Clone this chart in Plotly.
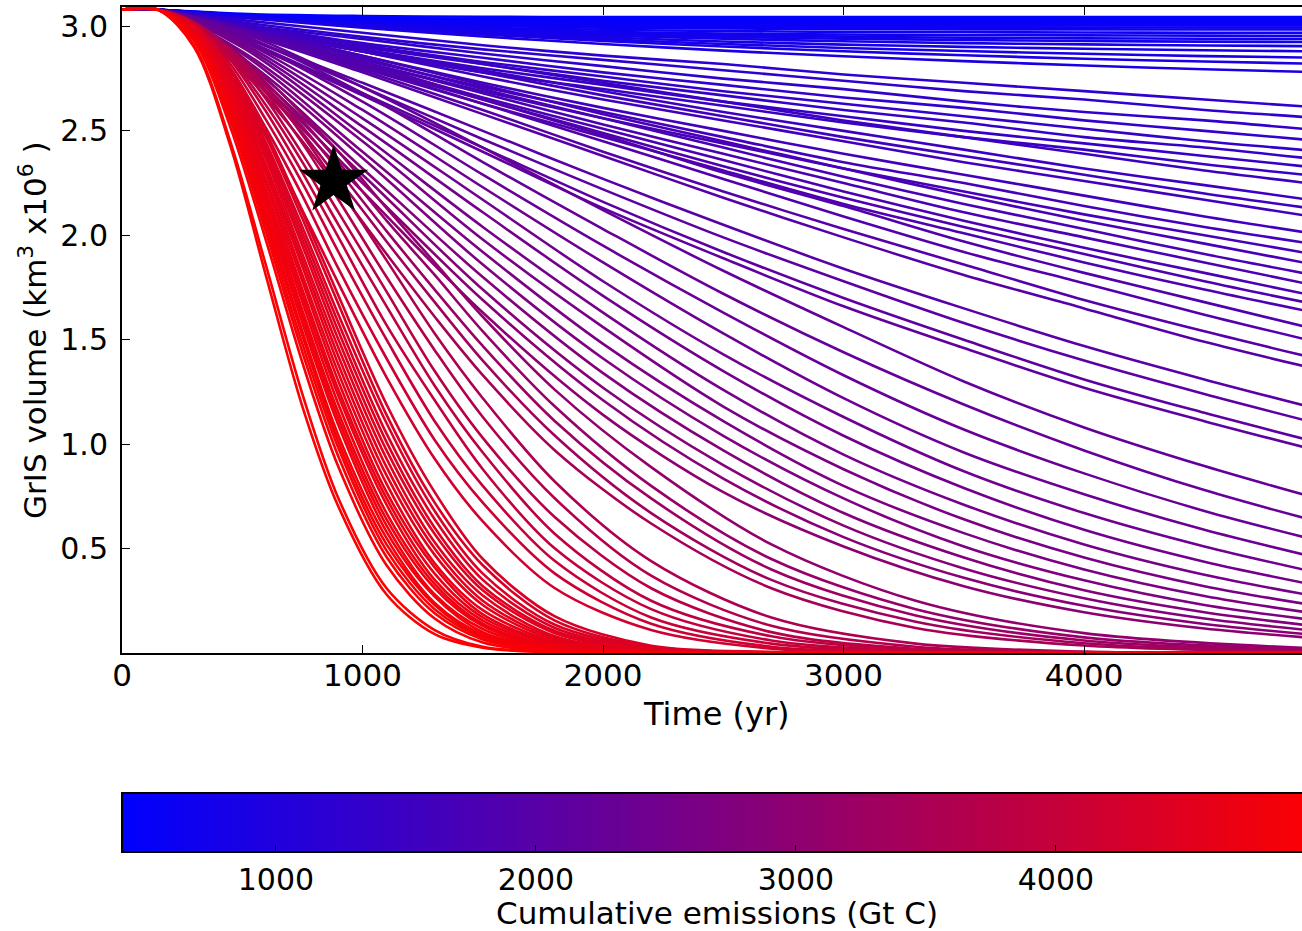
import plotly.graph_objects as go

# Sample years of the runs: fast-collapse runs are stored more densely early on
YEARS_FAST = [0, 150, 300, 450, 600, 750, 900, 1100, 1300, 1500, 1800, 2200, 2700, 3300, 4000, 5000]
YEARS_SLOW = [0, 150, 500, 1000, 1500, 2000, 2500, 3000, 3500, 4000, 4500, 5000]

# Cumulative emissions (Gt C) of the fast-collapse runs
EMISSIONS_FAST = [
    5000, 4985, 4930, 4900, 4875, 4850, 4825, 4800, 4775, 4750, 4720, 4690,
    4660, 4630, 4600, 4570, 4540, 4510, 4480, 4450, 4420, 4390, 4360, 4330,
    4200, 4110, 4020, 3930, 3840, 3750, 3660, 3570,
    3450, 3350, 3250, 3150, 3050,
]

# GrIS volume (10^6 km^3) of the fast-collapse runs at YEARS_FAST
VOLUME_FAST = [
    [3.08, 3.08, 2.90, 2.43, 1.80, 1.18, 0.70, 0.28, 0.09, 0.025, 0.003, 0.0, 0.0, 0.0, 0.0, 0.0],
    [3.08, 3.08, 2.91, 2.45, 1.85, 1.24, 0.74, 0.31, 0.11, 0.03, 0.005, 0.0, 0.0, 0.0, 0.0, 0.0],
    [3.08, 3.08, 2.93, 2.52, 1.97, 1.39, 0.89, 0.42, 0.165, 0.05, 0.007, 0.0, 0.0, 0.0, 0.0, 0.0],
    [3.08, 3.08, 2.94, 2.55, 2.01, 1.44, 0.94, 0.46, 0.19, 0.065, 0.01, 0.001, 0.0, 0.0, 0.0, 0.0],
    [3.08, 3.08, 2.94, 2.56, 2.04, 1.48, 0.98, 0.49, 0.21, 0.075, 0.012, 0.001, 0.0, 0.0, 0.0, 0.0],
    [3.08, 3.08, 2.95, 2.58, 2.07, 1.52, 1.01, 0.52, 0.23, 0.08, 0.015, 0.002, 0.0, 0.0, 0.0, 0.0],
    [3.08, 3.08, 2.95, 2.59, 2.09, 1.54, 1.04, 0.55, 0.24, 0.09, 0.017, 0.002, 0.0, 0.0, 0.0, 0.0],
    [3.08, 3.08, 2.96, 2.61, 2.12, 1.58, 1.09, 0.58, 0.27, 0.10, 0.02, 0.003, 0.0, 0.0, 0.0, 0.0],
    [3.08, 3.08, 2.96, 2.62, 2.14, 1.61, 1.12, 0.61, 0.28, 0.115, 0.023, 0.003, 0.0, 0.0, 0.0, 0.0],
    [3.08, 3.08, 2.96, 2.63, 2.17, 1.64, 1.15, 0.64, 0.31, 0.13, 0.027, 0.004, 0.0, 0.0, 0.0, 0.0],
    [3.08, 3.08, 2.96, 2.64, 2.19, 1.68, 1.19, 0.67, 0.33, 0.14, 0.03, 0.004, 0.0, 0.0, 0.0, 0.0],
    [3.08, 3.08, 2.97, 2.66, 2.21, 1.71, 1.23, 0.71, 0.35, 0.155, 0.035, 0.005, 0.0, 0.0, 0.0, 0.0],
    [3.08, 3.08, 2.97, 2.67, 2.24, 1.74, 1.26, 0.74, 0.38, 0.17, 0.042, 0.005, 0.0, 0.0, 0.0, 0.0],
    [3.08, 3.08, 2.97, 2.68, 2.26, 1.78, 1.30, 0.77, 0.41, 0.185, 0.047, 0.006, 0.0, 0.0, 0.0, 0.0],
    [3.08, 3.08, 2.98, 2.69, 2.29, 1.81, 1.34, 0.81, 0.43, 0.205, 0.054, 0.007, 0.001, 0.0, 0.0, 0.0],
    [3.08, 3.08, 2.98, 2.71, 2.31, 1.85, 1.38, 0.85, 0.47, 0.23, 0.063, 0.008, 0.001, 0.0, 0.0, 0.0],
    [3.08, 3.08, 2.98, 2.72, 2.33, 1.88, 1.42, 0.89, 0.50, 0.25, 0.072, 0.01, 0.001, 0.0, 0.0, 0.0],
    [3.08, 3.08, 2.99, 2.73, 2.36, 1.91, 1.46, 0.93, 0.53, 0.275, 0.08, 0.012, 0.001, 0.0, 0.0, 0.0],
    [3.08, 3.08, 2.99, 2.74, 2.38, 1.95, 1.50, 0.97, 0.57, 0.30, 0.095, 0.015, 0.002, 0.0, 0.0, 0.0],
    [3.08, 3.08, 2.99, 2.76, 2.40, 1.98, 1.54, 1.01, 0.60, 0.32, 0.105, 0.017, 0.002, 0.0, 0.0, 0.0],
    [3.08, 3.08, 3.00, 2.77, 2.42, 2.01, 1.58, 1.05, 0.64, 0.35, 0.12, 0.02, 0.002, 0.0, 0.0, 0.0],
    [3.08, 3.08, 3.00, 2.78, 2.44, 2.04, 1.62, 1.10, 0.68, 0.38, 0.135, 0.026, 0.003, 0.0, 0.0, 0.0],
    [3.08, 3.08, 3.00, 2.79, 2.47, 2.08, 1.67, 1.14, 0.72, 0.42, 0.155, 0.03, 0.004, 0.0, 0.0, 0.0],
    [3.08, 3.08, 3.01, 2.80, 2.49, 2.11, 1.71, 1.19, 0.77, 0.45, 0.175, 0.035, 0.005, 0.0, 0.0, 0.0],
    [3.08, 3.08, 2.99, 2.77, 2.47, 2.12, 1.77, 1.32, 0.93, 0.63, 0.31, 0.11, 0.021, 0.002, 0.0, 0.0],
    [3.08, 3.08, 3.00, 2.80, 2.51, 2.19, 1.84, 1.41, 1.02, 0.72, 0.38, 0.14, 0.03, 0.004, 0.0, 0.0],
    [3.08, 3.08, 3.00, 2.82, 2.55, 2.25, 1.92, 1.50, 1.11, 0.80, 0.44, 0.17, 0.045, 0.006, 0.0005, 0.0],
    [3.08, 3.08, 3.01, 2.84, 2.59, 2.30, 1.99, 1.57, 1.21, 0.88, 0.50, 0.21, 0.06, 0.01, 0.001, 0.0],
    [3.08, 3.08, 3.01, 2.85, 2.62, 2.35, 2.05, 1.66, 1.28, 0.96, 0.57, 0.25, 0.08, 0.014, 0.001, 0.0],
    [3.08, 3.08, 3.01, 2.87, 2.65, 2.39, 2.11, 1.73, 1.35, 1.03, 0.65, 0.31, 0.10, 0.02, 0.002, 0.0],
    [3.08, 3.08, 3.02, 2.88, 2.68, 2.44, 2.17, 1.80, 1.45, 1.13, 0.74, 0.37, 0.13, 0.03, 0.004, 0.0],
    [3.08, 3.08, 3.02, 2.89, 2.71, 2.48, 2.23, 1.88, 1.53, 1.22, 0.82, 0.44, 0.17, 0.045, 0.007, 0.0],
    [3.08, 3.08, 3.00, 2.85, 2.66, 2.45, 2.22, 1.91, 1.61, 1.33, 0.97, 0.62, 0.31, 0.12, 0.036, 0.005],
    [3.08, 3.08, 3.00, 2.87, 2.69, 2.49, 2.27, 1.97, 1.68, 1.40, 1.04, 0.67, 0.35, 0.15, 0.047, 0.007],
    [3.08, 3.08, 3.01, 2.88, 2.71, 2.52, 2.31, 2.02, 1.74, 1.47, 1.11, 0.74, 0.40, 0.18, 0.06, 0.01],
    [3.08, 3.08, 3.01, 2.89, 2.73, 2.55, 2.35, 2.07, 1.81, 1.54, 1.18, 0.80, 0.45, 0.21, 0.075, 0.015],
    [3.08, 3.08, 3.01, 2.90, 2.75, 2.58, 2.40, 2.13, 1.87, 1.61, 1.26, 0.89, 0.52, 0.25, 0.095, 0.02],
]

# Cumulative emissions (Gt C) of the slow runs
EMISSIONS_SLOW = [
    2960, 2900, 2840, 2780, 2720, 2660, 2600, 2540, 2480, 2420, 2360, 2300, 2250, 2200,
    2150, 2110, 2070, 2030, 1990, 1950, 1910, 1880,
    1850, 1820, 1790, 1760, 1730, 1700, 1670, 1640, 1610, 1580, 1550,
    1520, 1490, 1460, 1430, 1400, 1370, 1340, 1310, 1280, 1250,
    900, 870, 840, 810, 780, 750, 720, 690, 660, 630, 600, 570, 540, 500, 460, 420,
]

# GrIS volume (10^6 km^3) of the slow runs at YEARS_SLOW
VOLUME_SLOW = [
    [3.08, 3.08, 2.79, 2.21, 1.63, 1.14, 0.77, 0.51, 0.32, 0.195, 0.117, 0.068],
    [3.08, 3.08, 2.81, 2.25, 1.69, 1.21, 0.835, 0.555, 0.36, 0.226, 0.139, 0.083],
    [3.08, 3.08, 2.82, 2.29, 1.74, 1.27, 0.90, 0.61, 0.405, 0.262, 0.165, 0.102],
    [3.08, 3.08, 2.84, 2.32, 1.80, 1.34, 0.97, 0.67, 0.457, 0.30, 0.195, 0.124],
    [3.08, 3.08, 2.85, 2.37, 1.86, 1.41, 1.04, 0.74, 0.51, 0.348, 0.23, 0.151],
    [3.08, 3.08, 2.87, 2.40, 1.92, 1.48, 1.11, 0.80, 0.574, 0.40, 0.273, 0.182],
    [3.08, 3.08, 2.88, 2.45, 1.98, 1.56, 1.18, 0.88, 0.64, 0.457, 0.32, 0.22],
    [3.08, 3.08, 2.90, 2.48, 2.04, 1.63, 1.26, 0.95, 0.71, 0.52, 0.375, 0.264],
    [3.08, 3.08, 2.91, 2.52, 2.11, 1.71, 1.35, 1.04, 0.79, 0.59, 0.437, 0.316],
    [3.08, 3.08, 2.92, 2.56, 2.17, 1.78, 1.43, 1.13, 0.87, 0.67, 0.51, 0.377],
    [3.08, 3.08, 2.93, 2.60, 2.23, 1.87, 1.53, 1.22, 0.96, 0.76, 0.59, 0.448],
    [3.08, 3.08, 2.94, 2.64, 2.29, 1.95, 1.63, 1.33, 1.07, 0.86, 0.68, 0.53],
    [3.08, 3.08, 2.96, 2.68, 2.35, 2.03, 1.72, 1.44, 1.19, 0.97, 0.78, 0.62],
    [3.08, 3.08, 2.97, 2.71, 2.42, 2.12, 1.83, 1.56, 1.30, 1.08, 0.895, 0.73],
    [3.08, 3.08, 2.93, 2.67, 2.40, 2.13, 1.89, 1.66, 1.46, 1.27, 1.11, 0.96],
    [3.08, 3.08, 2.94, 2.68, 2.42, 2.16, 1.92, 1.70, 1.50, 1.31, 1.15, 1.00],
    [3.08, 3.08, 2.95, 2.71, 2.46, 2.22, 1.99, 1.78, 1.58, 1.40, 1.24, 1.09],
    [3.08, 3.08, 2.95, 2.73, 2.50, 2.27, 2.05, 1.84, 1.65, 1.47, 1.31, 1.16],
    [3.08, 3.08, 2.97, 2.78, 2.58, 2.38, 2.18, 1.99, 1.81, 1.65, 1.49, 1.35],
    [3.08, 3.08, 2.98, 2.79, 2.60, 2.40, 2.21, 2.03, 1.86, 1.69, 1.54, 1.40],
    [3.08, 3.08, 2.99, 2.81, 2.63, 2.45, 2.27, 2.09, 1.92, 1.77, 1.62, 1.48],
    [3.08, 3.08, 2.99, 2.83, 2.65, 2.48, 2.30, 2.14, 1.97, 1.82, 1.68, 1.54],
    [3.08, 3.08, 2.97, 2.80, 2.63, 2.47, 2.31, 2.15, 2.01, 1.87, 1.74, 1.62],
    [3.08, 3.08, 2.98, 2.81, 2.65, 2.49, 2.33, 2.18, 2.04, 1.91, 1.78, 1.66],
    [3.08, 3.08, 2.98, 2.82, 2.66, 2.51, 2.36, 2.21, 2.07, 1.94, 1.82, 1.70],
    [3.08, 3.08, 2.98, 2.83, 2.68, 2.53, 2.39, 2.25, 2.11, 1.99, 1.87, 1.75],
    [3.08, 3.08, 2.99, 2.85, 2.70, 2.56, 2.42, 2.28, 2.15, 2.03, 1.91, 1.80],
    [3.08, 3.08, 2.99, 2.86, 2.72, 2.58, 2.45, 2.32, 2.19, 2.07, 1.96, 1.85],
    [3.08, 3.08, 2.97, 2.83, 2.69, 2.56, 2.44, 2.32, 2.21, 2.10, 2.00, 1.90],
    [3.08, 3.08, 2.98, 2.84, 2.71, 2.59, 2.47, 2.35, 2.25, 2.14, 2.04, 1.95],
    [3.08, 3.08, 2.99, 2.86, 2.73, 2.61, 2.50, 2.39, 2.29, 2.19, 2.09, 2.00],
    [3.08, 3.08, 2.99, 2.88, 2.76, 2.65, 2.55, 2.45, 2.35, 2.26, 2.17, 2.08],
    [3.08, 3.08, 3.00, 2.88, 2.78, 2.67, 2.57, 2.47, 2.38, 2.29, 2.20, 2.12],
    [3.08, 3.08, 3.00, 2.89, 2.79, 2.69, 2.59, 2.50, 2.41, 2.32, 2.24, 2.16],
    [3.08, 3.08, 3.01, 2.91, 2.82, 2.73, 2.64, 2.55, 2.47, 2.39, 2.31, 2.24],
    [3.08, 3.08, 2.98, 2.88, 2.78, 2.70, 2.62, 2.54, 2.47, 2.41, 2.34, 2.28],
    [3.08, 3.08, 2.99, 2.89, 2.80, 2.72, 2.64, 2.57, 2.50, 2.44, 2.38, 2.32],
    [3.08, 3.08, 2.99, 2.90, 2.82, 2.74, 2.67, 2.60, 2.54, 2.47, 2.42, 2.36],
    [3.08, 3.08, 3.00, 2.91, 2.83, 2.76, 2.69, 2.63, 2.57, 2.51, 2.45, 2.40],
    [3.08, 3.08, 3.01, 2.92, 2.85, 2.78, 2.72, 2.66, 2.61, 2.55, 2.50, 2.45],
    [3.08, 3.08, 3.01, 2.94, 2.87, 2.81, 2.75, 2.70, 2.64, 2.59, 2.55, 2.50],
    [3.08, 3.08, 3.02, 2.95, 2.89, 2.84, 2.79, 2.74, 2.69, 2.65, 2.60, 2.56],
    [3.08, 3.08, 3.03, 2.97, 2.91, 2.86, 2.82, 2.77, 2.73, 2.69, 2.65, 2.61],
    [3.08, 3.08, 3.042, 2.994, 2.952, 2.916, 2.884, 2.857, 2.834, 2.813, 2.795, 2.780],
    [3.08, 3.08, 3.044, 3.000, 2.962, 2.931, 2.904, 2.881, 2.862, 2.845, 2.832, 2.820],
    [3.08, 3.08, 3.045, 3.003, 2.968, 2.939, 2.916, 2.897, 2.882, 2.869, 2.858, 2.850],
    [3.08, 3.08, 3.045, 3.004, 2.972, 2.948, 2.928, 2.913, 2.902, 2.893, 2.886, 2.880],
    [3.08, 3.08, 3.046, 3.007, 2.978, 2.957, 2.941, 2.929, 2.920, 2.914, 2.909, 2.905],
    [3.08, 3.08, 3.045, 3.007, 2.981, 2.963, 2.950, 2.941, 2.935, 2.930, 2.927, 2.925],
    [3.08, 3.08, 3.044, 3.008, 2.984, 2.968, 2.958, 2.951, 2.946, 2.943, 2.941, 2.940],
    [3.08, 3.08, 3.043, 3.008, 2.987, 2.974, 2.966, 2.961, 2.958, 2.957, 2.956, 2.955],
    [3.08, 3.08, 3.044, 3.012, 2.994, 2.984, 2.978, 2.974, 2.972, 2.971, 2.970, 2.970],
    [3.08, 3.08, 3.046, 3.018, 3.003, 2.994, 2.990, 2.988, 2.986, 2.986, 2.985, 2.985],
    [3.08, 3.08, 3.047, 3.020, 3.007, 3.001, 2.998, 2.996, 2.996, 2.995, 2.995, 2.995],
    [3.08, 3.08, 3.047, 3.023, 3.013, 3.008, 3.006, 3.006, 3.005, 3.005, 3.005, 3.005],
    [3.08, 3.08, 3.049, 3.029, 3.021, 3.017, 3.016, 3.015, 3.015, 3.015, 3.015, 3.015],
    [3.08, 3.08, 3.052, 3.035, 3.029, 3.026, 3.025, 3.025, 3.025, 3.025, 3.025, 3.025],
    [3.08, 3.08, 3.056, 3.042, 3.037, 3.036, 3.035, 3.035, 3.035, 3.035, 3.035, 3.035],
    [3.08, 3.08, 3.060, 3.050, 3.046, 3.045, 3.045, 3.045, 3.045, 3.045, 3.045, 3.045],
]

# Marked run
STAR_YEAR = [880]
STAR_VOLUME = [2.26]

# Axes and colour scale
EMISSION_MIN, EMISSION_MAX = 408, 5035
TIME_TICKS = [0, 1000, 2000, 3000, 4000]
VOLUME_TICKS = [0.5, 1.0, 1.5, 2.0, 2.5, 3.0]
EMISSION_TICKS = [1000, 2000, 3000, 4000]

FONT = "DejaVu Sans"
BLUE_RED = [[0.0, "rgb(0,0,255)"], [1.0, "rgb(255,0,0)"]]


def run_color(e):
    f = (e - EMISSION_MIN) / (EMISSION_MAX - EMISSION_MIN)
    f = min(max(f, 0.0), 1.0)
    return f"rgb({round(255 * f)},0,{round(255 * (1 - f))})"


def text_font(size):
    return dict(family=FONT, size=size, color="black")


runs = [(e, YEARS_FAST, v) for e, v in zip(EMISSIONS_FAST, VOLUME_FAST)]
runs += [(e, YEARS_SLOW, v) for e, v in zip(EMISSIONS_SLOW, VOLUME_SLOW)]
runs.sort(key=lambda r: r[0])

fig = go.Figure()
for e, years, vol in runs:
    fig.add_trace(go.Scatter(
        x=years, y=vol, mode="lines",
        line=dict(color=run_color(e), width=2.6, shape="spline", smoothing=0.9),
        hoverinfo="skip", showlegend=False,
    ))

all_emissions = EMISSIONS_FAST + EMISSIONS_SLOW
# colour bar for cumulative emissions
fig.add_trace(go.Scatter(
    x=[None] * len(all_emissions), y=[None] * len(all_emissions), mode="markers",
    marker=dict(
        color=all_emissions, colorscale=BLUE_RED, cmin=EMISSION_MIN, cmax=EMISSION_MAX,
        showscale=True,
        colorbar=dict(
            orientation="h", xref="paper", yref="paper",
            x=0, xanchor="left", y=-0.2167, yanchor="top",
            lenmode="pixels", len=1203, thicknessmode="pixels", thickness=59,
            xpad=0, ypad=0,
            outlinewidth=2, outlinecolor="black",
            ticks="inside", ticklen=8, tickwidth=1.2, tickcolor="black",
            tickvals=EMISSION_TICKS, ticktext=[str(v) for v in EMISSION_TICKS],
            tickfont=text_font(30),
        ),
    ),
    hoverinfo="skip", showlegend=False,
))

fig.add_trace(go.Scatter(
    x=STAR_YEAR, y=STAR_VOLUME, mode="markers",
    marker=dict(symbol="star", size=52, color="black", line=dict(width=0)),
    hoverinfo="skip", showlegend=False,
))

fig.update_layout(
    width=1302, height=931,
    margin=dict(l=122, r=0, t=7, b=278, autoexpand=False),
    paper_bgcolor="white", plot_bgcolor="white",
    font=text_font(30),
    xaxis=dict(
        range=[0, 4906], tickvals=TIME_TICKS, ticktext=[str(v) for v in TIME_TICKS],
        ticks="inside", ticklen=8, tickwidth=1.2, tickcolor="black",
        showline=True, linecolor="black", linewidth=2, mirror="ticks",
        showgrid=False, zeroline=False,
        tickfont=text_font(31),
        ticklabelstandoff=-6,
    ),
    yaxis=dict(
        range=[0, 3.093], tickvals=VOLUME_TICKS, ticktext=[f"{v:.1f}" for v in VOLUME_TICKS],
        ticks="inside", ticklen=8, tickwidth=1.2, tickcolor="black",
        showline=True, linecolor="black", linewidth=2, mirror=False,
        showgrid=False, zeroline=False,
        tickfont=text_font(30),
        ticklabelstandoff=6,
    ),
    annotations=[
        dict(text="Time (yr)", xref="paper", yref="paper", x=0.5042, y=-0.0944,
             xanchor="center", yanchor="middle", showarrow=False, font=text_font(32)),
        dict(text="GrIS volume (km<sup>3</sup> x10<sup>6</sup> )", xref="paper", yref="paper",
             x=-0.0754, y=0.5, xanchor="center", yanchor="middle", textangle=-90,
             showarrow=False, font=text_font(31)),
        dict(text="Cumulative emissions (Gt C)", xref="paper", yref="paper",
             x=0.5042, y=-0.4025, xanchor="center", yanchor="middle",
             showarrow=False, font=text_font(31)),
    ],
)

fig.write_html("out.html")
